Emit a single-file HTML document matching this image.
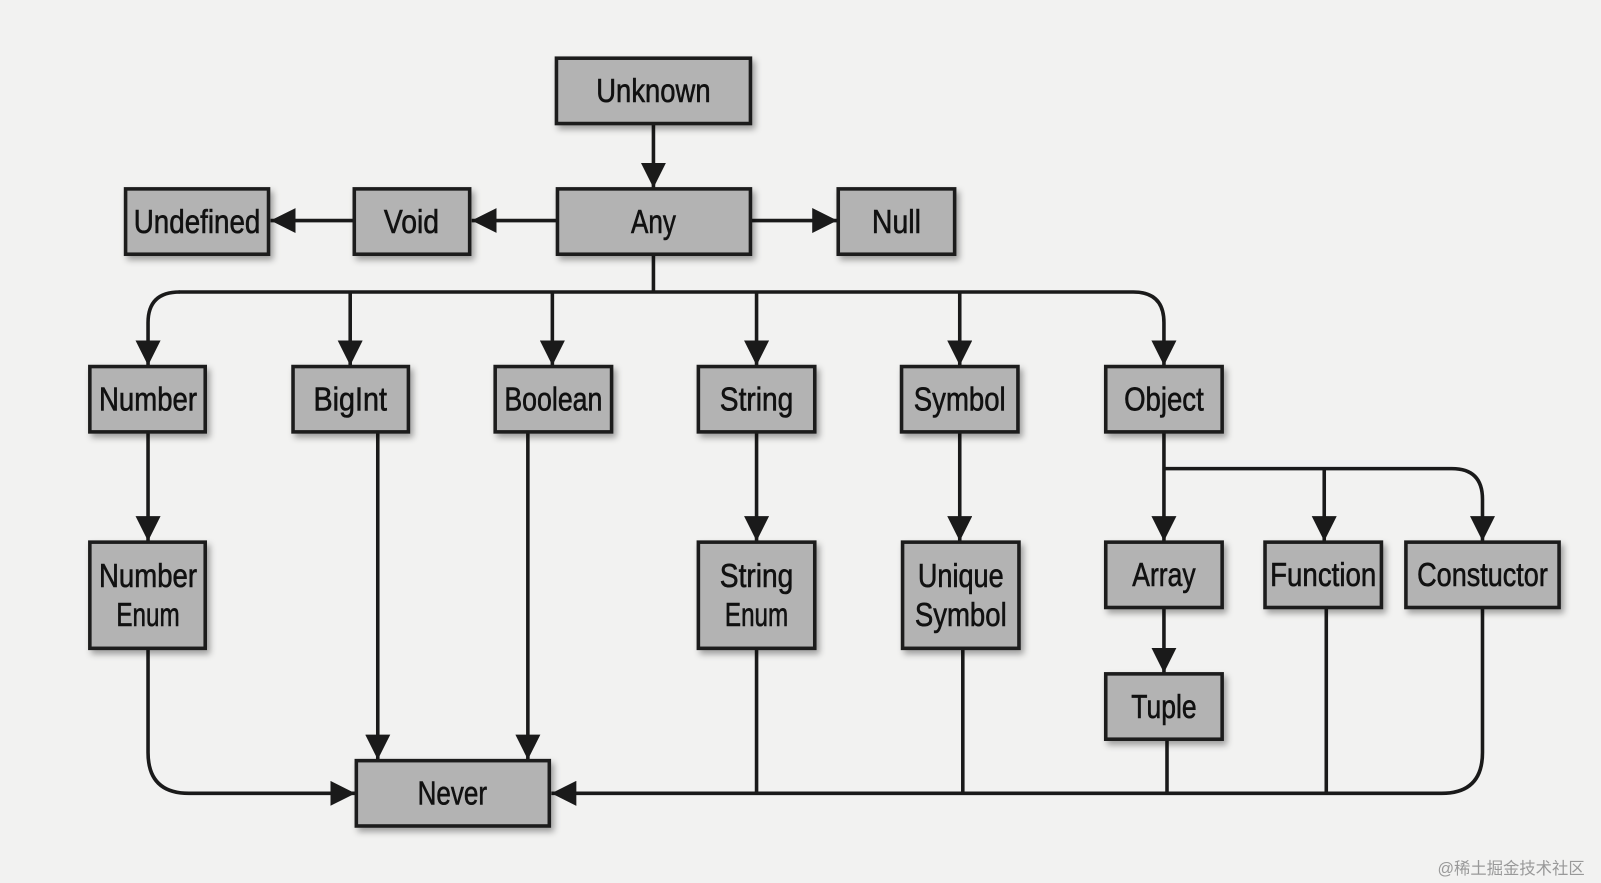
<!DOCTYPE html>
<html><head><meta charset="utf-8"><style>
html,body{margin:0;padding:0;background:#f2f2f1;}
svg{display:block}
text{font-family:"Liberation Sans Narrow","Liberation Sans",sans-serif;font-size:33px;fill:#111;stroke:#111;stroke-width:0.6;text-anchor:middle;}
</style></head><body>
<svg width="1601" height="883" viewBox="0 0 1601 883" xmlns="http://www.w3.org/2000/svg">
<defs>
<marker id="a" viewBox="0 0 10 10" refX="10" refY="5" markerWidth="7" markerHeight="7" markerUnits="strokeWidth" orient="auto"><path d="M0,0 L10,5 L0,10 z" fill="#1a1a1a"/></marker>
<filter id="s" x="-10%" y="-10%" width="130%" height="140%"><feDropShadow dx="3" dy="4" stdDeviation="3" flood-color="#000" flood-opacity="0.35"/></filter>
</defs>
<rect width="1601" height="883" fill="#f2f2f1"/>
<g transform="scale(1.021)">
<g stroke="#1a1a1a" stroke-width="3.5" fill="none">
<line x1="640" y1="121" x2="640" y2="184" marker-end="url(#a)"/>
<line x1="546" y1="216" x2="462" y2="216" marker-end="url(#a)"/>
<line x1="347" y1="216" x2="265" y2="216" marker-end="url(#a)"/>
<line x1="735" y1="216" x2="820" y2="216" marker-end="url(#a)"/>
<line x1="640" y1="249" x2="640" y2="286"/>
<path d="M175,286 H1110 Q1140,286 1140,316 V358" marker-end="url(#a)"/>
<path d="M176,286 Q145,286 145,316 V358" marker-end="url(#a)"/>
<line x1="343" y1="286" x2="343" y2="358" marker-end="url(#a)"/>
<line x1="541" y1="286" x2="541" y2="358" marker-end="url(#a)"/>
<line x1="741" y1="286" x2="741" y2="358" marker-end="url(#a)"/>
<line x1="940" y1="286" x2="940" y2="358" marker-end="url(#a)"/>
<line x1="145" y1="423" x2="145" y2="530" marker-end="url(#a)"/>
<line x1="741" y1="423" x2="741" y2="530" marker-end="url(#a)"/>
<line x1="940" y1="423" x2="940" y2="530" marker-end="url(#a)"/>
<line x1="370" y1="423" x2="370" y2="744" marker-end="url(#a)"/>
<line x1="517" y1="423" x2="517" y2="744" marker-end="url(#a)"/>
<line x1="1140" y1="423" x2="1140" y2="530" marker-end="url(#a)"/>
<path d="M1140,459 H1422 Q1452,459 1452,489 V530" marker-end="url(#a)"/>
<line x1="1297" y1="459" x2="1297" y2="530" marker-end="url(#a)"/>
<line x1="1140" y1="595" x2="1140" y2="659" marker-end="url(#a)"/>
<path d="M145,635 V737 Q145,777 185,777 H348" marker-end="url(#a)"/>
<path d="M1452,595 V737 Q1452,777 1412,777 H540" marker-end="url(#a)"/>
<line x1="741" y1="635" x2="741" y2="777"/>
<line x1="943" y1="635" x2="943" y2="777"/>
<line x1="1143" y1="724" x2="1143" y2="777"/>
<line x1="1299" y1="595" x2="1299" y2="777"/>
</g>
<g fill="#b3b3b3" stroke="#1e1e1e" stroke-width="3.5" filter="url(#s)">
<rect x="545" y="57" width="190" height="64"/>
<rect x="546" y="185" width="189" height="64"/>
<rect x="347" y="185" width="113" height="64"/>
<rect x="123" y="185" width="140" height="64"/>
<rect x="821" y="185" width="114" height="64"/>
<rect x="88" y="359" width="113" height="64"/>
<rect x="287" y="359" width="113" height="64"/>
<rect x="485" y="359" width="114" height="64"/>
<rect x="684" y="359" width="114" height="64"/>
<rect x="883" y="359" width="114" height="64"/>
<rect x="1083" y="359" width="114" height="64"/>
<rect x="88" y="531" width="113" height="104"/>
<rect x="684" y="531" width="114" height="104"/>
<rect x="884" y="531" width="114" height="104"/>
<rect x="1083" y="531" width="114" height="64"/>
<rect x="1239" y="531" width="114" height="64"/>
<rect x="1377" y="531" width="150" height="64"/>
<rect x="1083" y="660" width="114" height="64"/>
<rect x="349" y="745" width="189" height="64"/>
</g>
<g>
<text x="640" y="100" textLength="112" lengthAdjust="spacingAndGlyphs">Unknown</text>
<text x="640" y="228" textLength="44" lengthAdjust="spacingAndGlyphs">Any</text>
<text x="403" y="228" textLength="54" lengthAdjust="spacingAndGlyphs">Void</text>
<text x="193" y="228" textLength="124" lengthAdjust="spacingAndGlyphs">Undefined</text>
<text x="878" y="228" textLength="48" lengthAdjust="spacingAndGlyphs">Null</text>
<text x="145" y="402" textLength="96" lengthAdjust="spacingAndGlyphs">Number</text>
<text x="343" y="402" textLength="72" lengthAdjust="spacingAndGlyphs">BigInt</text>
<text x="542" y="402" textLength="96" lengthAdjust="spacingAndGlyphs">Boolean</text>
<text x="741" y="402" textLength="72" lengthAdjust="spacingAndGlyphs">String</text>
<text x="940" y="402" textLength="90" lengthAdjust="spacingAndGlyphs">Symbol</text>
<text x="1140" y="402" textLength="78" lengthAdjust="spacingAndGlyphs">Object</text>
<text x="145" y="575" textLength="96" lengthAdjust="spacingAndGlyphs">Number</text><text x="145" y="613" textLength="62" lengthAdjust="spacingAndGlyphs">Enum</text>
<text x="741" y="575" textLength="72" lengthAdjust="spacingAndGlyphs">String</text><text x="741" y="613" textLength="62" lengthAdjust="spacingAndGlyphs">Enum</text>
<text x="941" y="575" textLength="84" lengthAdjust="spacingAndGlyphs">Unique</text><text x="941" y="613" textLength="90" lengthAdjust="spacingAndGlyphs">Symbol</text>
<text x="1140" y="574" textLength="62" lengthAdjust="spacingAndGlyphs">Array</text>
<text x="1296" y="574" textLength="104" lengthAdjust="spacingAndGlyphs">Function</text>
<text x="1452" y="574" textLength="128" lengthAdjust="spacingAndGlyphs">Constuctor</text>
<text x="1140" y="703" textLength="64" lengthAdjust="spacingAndGlyphs">Tuple</text>
<text x="443" y="788" textLength="68" lengthAdjust="spacingAndGlyphs">Never</text>
</g>
<text x="1480" y="856" style="font-size:16px;fill:#999;stroke:none;font-family:'Liberation Sans','Noto Sans CJK SC',sans-serif">@稀土掘金技术社区</text>
</g>
</svg>
</body></html>
